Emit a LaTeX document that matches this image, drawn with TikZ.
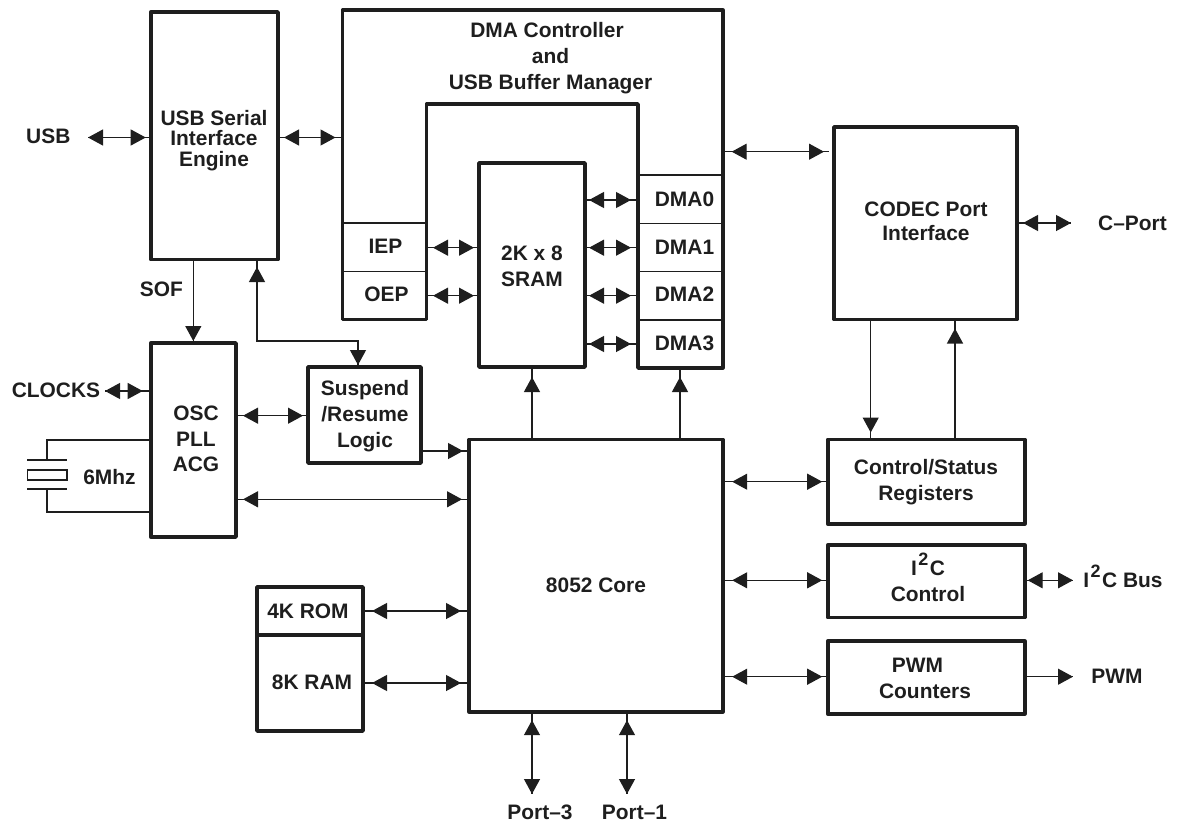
\documentclass[tikz,border=0pt]{standalone}
\usepackage{fontspec}
\setmainfont{Liberation Sans}
\usetikzlibrary{arrows.meta}
\definecolor{ink}{HTML}{1E1E1E}
\tikzset{
  box/.style={draw=ink,line width=3.6bp,line join=round,outer sep=0pt,inner sep=0pt},
  cell/.style={draw=ink,line width=1.1bp,outer sep=0pt,inner sep=0pt},
  lbl/.style={text=ink,inner sep=0pt,outer sep=0pt,align=center,anchor=base,font=\fontsize{21}{#1}\bfseries\selectfont},
  lbl/.default=25,
  wire/.style={draw=ink,line width=1.2bp},
  tip/.tip={Triangle[length=15bp,width=16bp]},
  one/.style={wire,postaction={draw=ink,line width=1.2bp,-tip,shorten >=#1}},
  dbl/.style 2 args={wire,postaction={draw=ink,line width=1.2bp,tip-tip,shorten <=#1,shorten >=#2}}
}
\newcommand{\supII}{I\kern1.5bp\raisebox{10bp}{\fontsize{18}{18}\bfseries\selectfont 2}\kern1.5bp C}
\begin{document}
\begin{tikzpicture}[x=1bp,y=-1bp]
\useasboundingbox (0,0) rectangle (1179,827);
% DMA cells
\node[cell,minimum width=85bp,minimum height=48.5bp] (iep) at (384.5,247.25) {};
\node[cell,minimum width=85bp,minimum height=47.8bp] (oep) at (384.5,295.4) {};
\node[cell,minimum width=84.5bp,minimum height=48.5bp] (dma0) at (680.25,199.25) {};
\node[cell,minimum width=84.5bp,minimum height=48bp] (dma1) at (680.25,247.5) {};
\node[cell,minimum width=84.5bp,minimum height=48.5bp] (dma2) at (680.25,295.75) {};
\node[cell,minimum width=84.5bp,minimum height=48bp] (dma3) at (680.25,344) {};
\draw[box] (342.5,10) -- (722.7,10) -- (722.7,368) -- (638,368) -- (638,104) -- (426.5,104) -- (426.5,319.3) -- (342.5,319.3) -- cycle;
\coordinate (dmaL) at (342.5,137.5);
\coordinate (dmaR) at (722.7,151.7);
\coordinate (dmaB) at (680,368);
% boxes
\node[box,minimum width=127.3bp,minimum height=247.5bp] (sie) at (214.35,135.75) {};
\node[box,minimum width=106bp,minimum height=204bp] (sram) at (532,265) {};
\node[box,minimum width=183bp,minimum height=192.5bp] (codec) at (925.5,223.25) {};
\node[box,minimum width=85.3bp,minimum height=194bp] (osc) at (193.35,440) {};
\node[box,minimum width=113bp,minimum height=96bp] (susp) at (364.5,415) {};
\node[box,minimum width=253.7bp,minimum height=272.2bp] (core) at (595.85,575.6) {};
\node[box,minimum width=197bp,minimum height=84.5bp] (ctl) at (926.2,481.75) {};
\node[box,minimum width=197bp,minimum height=72.5bp] (iic) at (926.2,581.25) {};
\node[box,minimum width=197bp,minimum height=73bp] (pwm) at (926.2,677.5) {};
\node[box,minimum width=106bp,minimum height=48bp] (rom) at (310,611) {};
\node[box,minimum width=106bp,minimum height=96bp] (ram) at (310,683) {};
% labels
\node[lbl] (lusb) at (48.3,143) {USB};
\node[lbl=20.5] (lsie) at (214,166) {USB Serial\\Interface\\Engine};
\node[lbl] (lsof) at (161.5,296.7) {SOF};
\node[lbl] (lclk) at (56,397.7) {CLOCKS};
\node[lbl=25.5] (losc) at (196,471.7) {OSC\\PLL\\ACG};
\node[lbl] (lxt) at (109.5,484) {6Mhz};
\node[lbl=25.7] (lsus) at (365,447) {Suspend\\/Resume\\Logic};
\node[lbl=26] (ldma) at (550.5,89.3) {DMA Controller\hspace*{7bp}\\and\hspace*{29bp}\\USB Buffer Manager};
\node[lbl] (liep) at (385.5,253) {IEP};
\node[lbl] (loep) at (386.5,301.7) {OEP};
\node[lbl=26] (lsram) at (532,286) {2K x 8\\SRAM};
\node[lbl] (ld0) at (684.5,206) {DMA0};
\node[lbl] (ld1) at (684.5,254) {DMA1};
\node[lbl] (ld2) at (684.5,301.7) {DMA2};
\node[lbl] (ld3) at (684.5,350) {DMA3};
\node[lbl=24] (lcod) at (926,240.5) {CODEC Port\\Interface};
\node[lbl] (lcp) at (1132.5,230.5) {C–Port};
\node[lbl=26] (lctl) at (926,500) {Control/Status\\Registers};
\node[lbl=25.3] (liic) at (928,601) {\supII\\Control};
\node[lbl] (libus) at (1123,587) {\supII{} Bus};
\node[lbl=26] (lpwm) at (925,698) {PWM\hspace*{15bp}\\Counters};
\node[lbl] (lpw) at (1117,683) {PWM};
\node[lbl] (lcore) at (596,592.5) {8052 Core};
\node[lbl] (lrom) at (308,618) {4K ROM};
\node[lbl] (lram) at (312,689.5) {8K RAM};
\node[lbl] (lp3) at (540,819) {Port–3};
\node[lbl] (lp1) at (634.5,819) {Port–1};
% free ends
\coordinate (usbEnd) at (88,137.5);
\coordinate (clkEnd) at (105,391);
\coordinate (codEnd) at (829,151.7);
\coordinate (cpEnd) at (1071,223);
\coordinate (ibEnd) at (1073,580.3);
\coordinate (pwEnd) at (1073,676.7);
\coordinate (p3End) at (532,794);
\coordinate (p1End) at (627,794);
% connectors
\draw[dbl={0bp}{5bp}] (usbEnd) -- (sie.west |- usbEnd);
\draw[dbl={6bp}{7bp}] (sie.east |- dmaL) -- (dmaL);
\draw[one=2bp] (sie.south -| 193.3,0) -- (osc.north -| 193.3,0);
\draw[dbl={7.5bp}{2bp}] (sie.south -| 257,0) -- (257,341) -| (susp.north -| 358,0);
\draw[dbl={0bp}{8bp}] (clkEnd) -- (osc.west |- clkEnd);
\draw[dbl={7bp}{5bp}] (osc.east |- 0,415.7) -- (susp.west |- 0,415.7);
\draw[one=6bp] (susp.east |- 0,451) -- (core.west |- 0,451);
\draw[dbl={7bp}{7bp}] (osc.east |- 0,499.3) -- (core.west |- 0,499.3);
\draw[dbl={6bp}{5bp}] (iep.east |- 0,247.7) -- (sram.west |- 0,247.7);
\draw[dbl={6bp}{5bp}] (oep.east |- 0,295.7) -- (sram.west |- 0,295.7);
\draw[dbl={4bp}{7bp}] (sram.east |- 0,200) -- (dma0.west |- 0,200);
\draw[dbl={4bp}{7bp}] (sram.east |- 0,247.7) -- (dma1.west |- 0,247.7);
\draw[dbl={4bp}{7bp}] (sram.east |- 0,295.7) -- (dma2.west |- 0,295.7);
\draw[dbl={4bp}{7bp}] (sram.east |- 0,344) -- (dma3.west |- 0,344);
\draw[one=10bp] (core.north -| sram) -- (sram.south);
\draw[one=9bp] (core.north -| dmaB) -- (dmaB);
\draw[dbl={9bp}{5bp}] (dmaR) -- (codEnd);
\draw[dbl={6bp}{0bp}] (codec.east |- cpEnd) -- (cpEnd);
\draw[one=7bp] (codec.south -| 870.7,0) -- (ctl.north -| 870.7,0);
\draw[one=9bp] (ctl.north -| 955,0) -- (codec.south -| 955,0);
\draw[dbl={9.5bp}{5.5bp}] (core.east |- 0,481.7) -- (ctl.west |- 0,481.7);
\draw[dbl={9.5bp}{5.5bp}] (core.east |- 0,580.3) -- (iic.west |- 0,580.3);
\draw[dbl={9.5bp}{5.5bp}] (core.east |- 0,676.7) -- (pwm.west |- 0,676.7);
\draw[dbl={3bp}{0bp}] (iic.east |- ibEnd) -- (ibEnd);
\draw[one=0bp] (pwm.east |- pwEnd) -- (pwEnd);
\draw[dbl={9bp}{8bp}] (rom.east |- 0,611) -- (core.west |- 0,611);
\draw[dbl={9bp}{8bp}] (ram.east |- 0,683) -- (core.west |- 0,683);
\draw[dbl={8.5bp}{0bp}] (core.south -| p3End) -- (p3End);
\draw[dbl={8.5bp}{0bp}] (core.south -| p1End) -- (p1End);
% crystal
\coordinate (pa) at (47,460);
\coordinate (pb) at (47,489);
\node[cell,minimum width=39.5bp,minimum height=10bp] (xtal) at (47.25,475) {};
\draw[wire] (osc.west |- 0,440) -| (pa);
\draw[wire] (osc.west |- 0,512) -| (pb);
\draw[wire] (27,460) -- (pa) -- (67,460);
\draw[wire] (27,489) -- (pb) -- (67,489);
\end{tikzpicture}
\end{document}
